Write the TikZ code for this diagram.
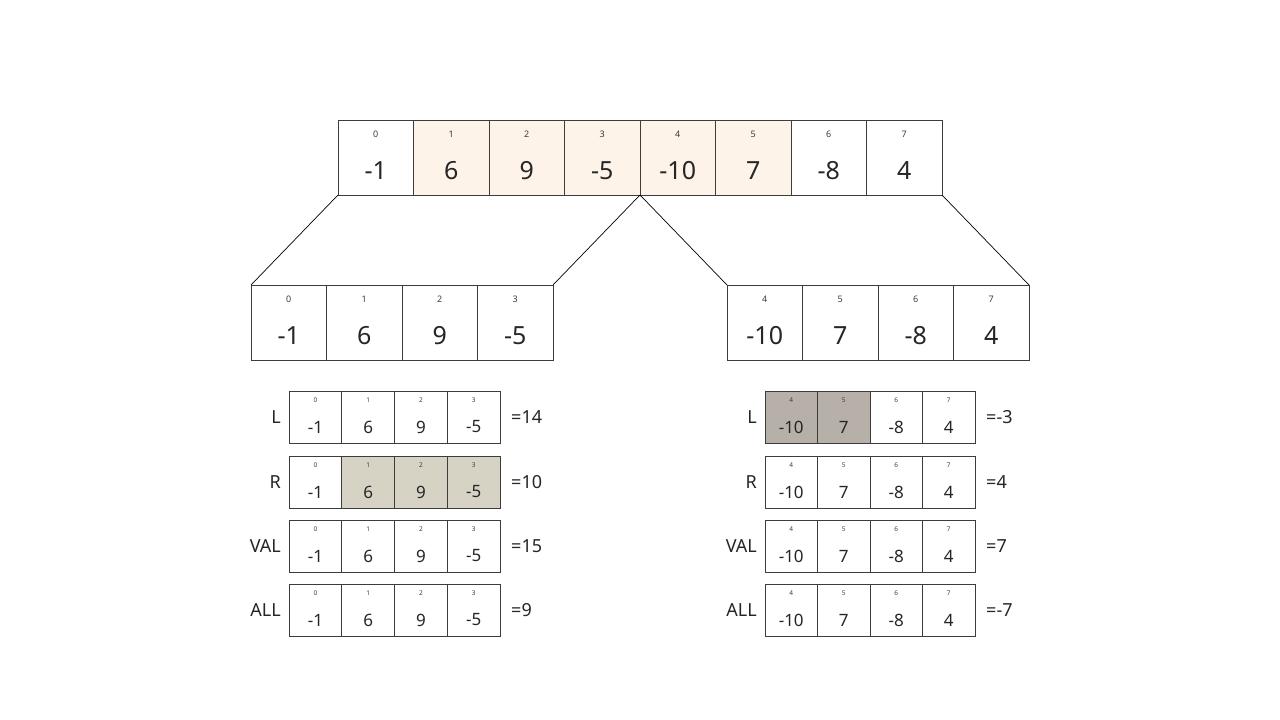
\documentclass[tikz,border=0pt]{standalone}
\usepackage{fontspec}
\setmainfont{Noto Sans}
\usetikzlibrary{calc}
\definecolor{hl}{HTML}{FDF3E9}
\definecolor{gr}{HTML}{D6D3C5}
\definecolor{dk}{HTML}{B6B0A9}
\definecolor{ln}{HTML}{3C3C3C}
\tikzset{
  cellbox/.style={draw=ln, line width=0.9pt, anchor=north west, inner sep=0pt, outer sep=0pt},
  bigidx/.style={font=\fontsize{9}{9}\selectfont, text=ln, inner sep=0pt, yshift=-14pt},
  bigval/.style={font=\fontsize{25}{25}\selectfont, text=black!85, inner sep=0pt, yshift=-51pt},
  smallidx/.style={font=\fontsize{6.5}{6.5}\selectfont, text=ln, inner sep=0pt, yshift=-9pt},
  smallval/.style={font=\fontsize{17}{17}\selectfont, text=black!85, inner sep=0pt, yshift=-36pt},
  rowlbl/.style={font=\fontsize{18}{18}\selectfont, text=black!85, inner sep=0pt, anchor=east, xshift=-8pt},
  sumlbl/.style={font=\fontsize{18}{18}\selectfont, text=black!85, inner sep=0pt, anchor=west, xshift=11pt},
  conn/.style={draw=black, line width=0.7pt}
}
\newcommand{\drawrow}[7]{%
  \foreach \idx/\val/\fc [count=\k from 0] in {#6}{
    \node[cellbox, fill=\fc, minimum width=#4pt, minimum height=#5pt] (#1\k) at ({#2+\k*#4},#3) {};
    \node[#7idx] (#1i\k) at (#1\k.north) {\idx};
    \node[#7val] (#1v\k) at (#1\k.north) {\val};
  }%
}
\begin{document}
\begin{tikzpicture}[x=1pt,y=-1pt]
\useasboundingbox (0,0) rectangle (1280,720);
\fill[white] (0,0) rectangle (1280,720);
% top array
\drawrow{t}{338}{120}{75.5}{75}{0/-1/white,1/6/hl,2/9/hl,3/-5/hl,4/-10/hl,5/7/hl,6/-8/white,7/4/white}{big}
% middle arrays
\drawrow{lm}{251}{285}{75.5}{75}{0/-1/white,1/6/white,2/9/white,3/-5/white}{big}
\drawrow{rm}{727}{285}{75.5}{75}{4/-10/white,5/7/white,6/-8/white,7/4/white}{big}
% connectors
\draw[conn] (t0.south west) -- (lm0.north west);
\draw[conn] (t3.south east) -- (lm3.north east);
\draw[conn] (t4.south west) -- (rm0.north west);
\draw[conn] (t7.south east) -- (rm3.north east);
% left small rows
\drawrow{la}{289}{391}{52.75}{52}{0/-1/white,1/6/white,2/9/white,3/-5/white}{small}
\drawrow{lb}{289}{456}{52.75}{52}{0/-1/white,1/6/gr,2/9/gr,3/-5/gr}{small}
\drawrow{lc}{289}{520}{52.75}{52}{0/-1/white,1/6/white,2/9/white,3/-5/white}{small}
\drawrow{ld}{289}{584}{52.75}{52}{0/-1/white,1/6/white,2/9/white,3/-5/white}{small}
% right small rows
\drawrow{ra}{765}{391}{52.5}{52}{4/-10/dk,5/7/dk,6/-8/white,7/4/white}{small}
\drawrow{rb}{765}{456}{52.5}{52}{4/-10/white,5/7/white,6/-8/white,7/4/white}{small}
\drawrow{rc}{765}{520}{52.5}{52}{4/-10/white,5/7/white,6/-8/white,7/4/white}{small}
\drawrow{rd}{765}{584}{52.5}{52}{4/-10/white,5/7/white,6/-8/white,7/4/white}{small}
% row labels
\node[rowlbl] (laL) at (la0.west) {L};
\node[rowlbl] (lbL) at (lb0.west) {R};
\node[rowlbl] (lcL) at (lc0.west) {VAL};
\node[rowlbl] (ldL) at (ld0.west) {ALL};
\node[rowlbl] (raL) at (ra0.west) {L};
\node[rowlbl] (rbL) at (rb0.west) {R};
\node[rowlbl] (rcL) at (rc0.west) {VAL};
\node[rowlbl] (rdL) at (rd0.west) {ALL};
% sums
\node[sumlbl] (laS) at (la3.east) {=14};
\node[sumlbl] (lbS) at (lb3.east) {=10};
\node[sumlbl] (lcS) at (lc3.east) {=15};
\node[sumlbl] (ldS) at (ld3.east) {=9};
\node[sumlbl] (raS) at (ra3.east) {=-3};
\node[sumlbl] (rbS) at (rb3.east) {=4};
\node[sumlbl] (rcS) at (rc3.east) {=7};
\node[sumlbl] (rdS) at (rd3.east) {=-7};
\end{tikzpicture}
\end{document}
